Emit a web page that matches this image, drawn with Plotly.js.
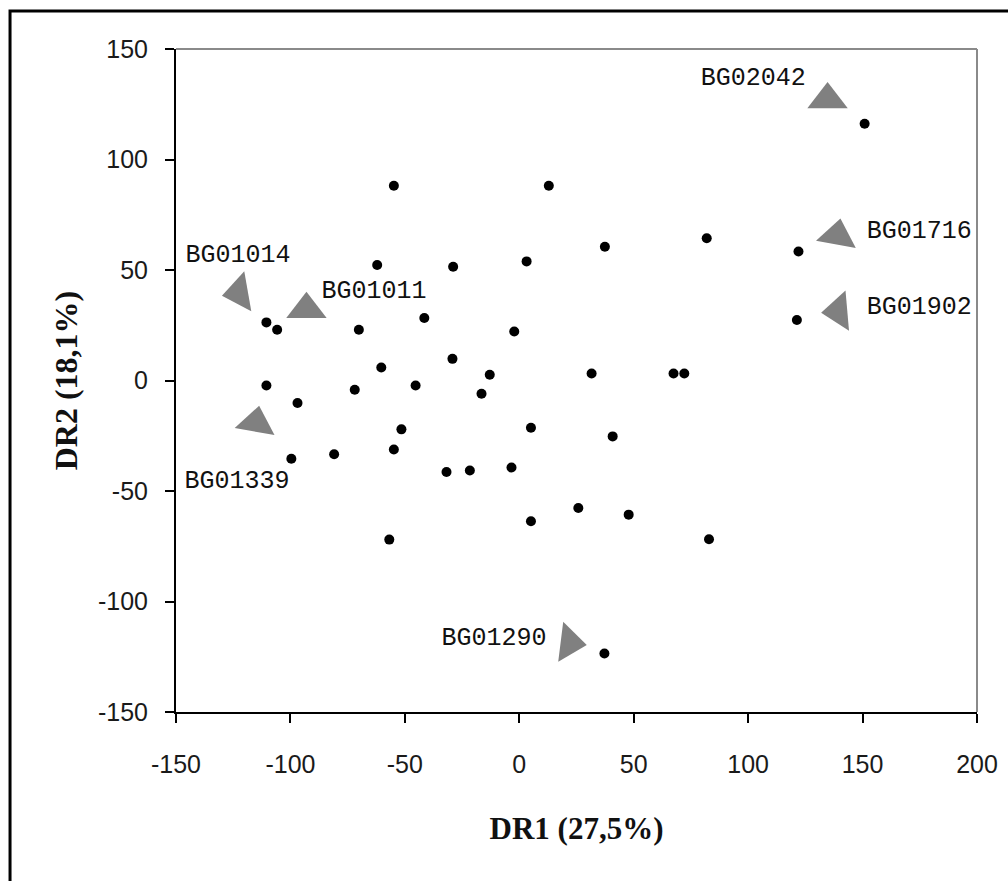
<!DOCTYPE html>
<html>
<head>
<meta charset="utf-8">
<script src="https://cdn.plot.ly/plotly-3.0.1.min.js"></script>
<style>
  html, body { margin: 0; padding: 0; background: #ffffff; }
  #chart { width: 1008px; height: 881px; }
</style>
</head>
<body>
<div id="chart"></div>
<script>
// Accession scores on the first two discriminant axes
const dr1 = [150.9, -54.8, 12.9, 37.4, 81.9, 122.0, -62.1, -28.9, 3.2, 121.3,
             -110.5, -105.8, -70.1, -41.5, -2.2, -29.2, -60.3, -12.9, 31.6, 67.4,
             72.1, -110.5, -71.9, -45.3, -16.5, -96.9, -51.5, 5.1, 40.8, -54.8,
             -80.9, -99.6, -31.8, -21.6, -3.4, 25.8, 47.8, 5.1, -56.8, 82.9, 37.2];
const dr2 = [116.2, 88.1, 88.1, 60.5, 64.4, 58.4, 52.3, 51.5, 53.9, 27.4,
             26.3, 23.0, 23.0, 28.3, 22.2, 9.8, 5.9, 2.6, 3.2, 3.2,
             3.2, -2.3, -4.2, -2.3, -6.0, -10.2, -22.1, -21.4, -25.3, -31.2,
             -33.4, -35.4, -41.4, -40.7, -39.4, -57.7, -60.7, -63.7, -72.0, -71.8, -123.5];

// Highlighted accessions: label names, label positions, pointer positions and directions
const accNames  = ["BG02042", "BG01716", "BG01902", "BG01014", "BG01011", "BG01339", "BG01290"];
const labelX    = [102.2, 174.8, 174.8, -122.9, -63.5, -123.3, -11.0];
const labelY    = [136.6, 67.3, 32.7, 56.5, 40.2, -45.6, -117.0];
const pointerX  = [134.7, 139.0, 139.5, -122.4, -93.0, -115.0, 21.9];
const pointerY  = [127.2, 65.5, 31.3, 39.7, 32.2, -19.2, -118.7];
const pointerAngle = [0, 10, -95, -100, 0, 10, 97];

const xTicks = [-150, -100, -50, 0, 50, 100, 150, 200];
const yTicks = [-150, -100, -50, 0, 50, 100, 150];
const xTitle = "DR1 (27,5%)";
const yTitle = "DR2 (18,1%)";

const traces = [
  {
    type: "scatter", mode: "markers", x: dr1, y: dr2,
    marker: { color: "#000000", size: 10, symbol: "circle" },
    hoverinfo: "x+y", showlegend: false, cliponaxis: false
  },
  {
    type: "scatter", mode: "markers", x: pointerX, y: pointerY,
    marker: { color: "#808080", size: 35, symbol: "triangle-up", angle: pointerAngle, line: { width: 0 } },
    hoverinfo: "skip", showlegend: false, cliponaxis: false
  },
  {
    type: "scatter", mode: "text", x: labelX, y: labelY, text: accNames,
    textposition: "middle center",
    textfont: { family: "Liberation Mono, DejaVu Sans Mono, monospace", size: 25, color: "#111111" },
    hoverinfo: "skip", showlegend: false, cliponaxis: false
  }
];

const axisCommon = {
  showgrid: false, zeroline: false,
  showline: true, linecolor: "#000000", linewidth: 2,
  ticks: "outside", ticklen: 9, tickwidth: 2, tickcolor: "#000000",
  tickfont: { family: "Liberation Sans, Arial, sans-serif", size: 25, color: "#1a1a1a" },
  automargin: false
};

const layout = {
  width: 1008, height: 881,
  margin: { l: 176, r: 31, t: 49, b: 169 },
  paper_bgcolor: "#ffffff", plot_bgcolor: "#ffffff",
  showlegend: false,
  xaxis: Object.assign({}, axisCommon, {
    range: [-150, 200], tickvals: xTicks, ticktext: xTicks.map(String),
    ticklabelstandoff: 20,
    title: { text: xTitle, font: { family: "Liberation Serif, Times New Roman, serif", size: 31, color: "#111111", weight: "bold" }, standoff: 40 }
  }),
  yaxis: Object.assign({}, axisCommon, {
    range: [-150, 150], tickvals: yTicks, ticktext: yTicks.map(String),
    ticklabelstandoff: 12,
    title: { text: yTitle, font: { family: "Liberation Serif, Times New Roman, serif", size: 32, color: "#111111", weight: "bold" }, standoff: 11 }
  }),
  shapes: [
    // plot frame: grey top and right edges
    { type: "line", xref: "paper", yref: "paper", x0: 0, x1: 1, y0: 1, y1: 1, line: { color: "#8a8a8a", width: 2 } },
    { type: "line", xref: "paper", yref: "paper", x0: 1, x1: 1, y0: 0, y1: 1, line: { color: "#8a8a8a", width: 2 } },
    // outer black border of the figure (top and left edges visible)
    { type: "rect", xref: "paper", yref: "paper", x0: -0.2072, x1: 1.2, y0: -0.5, y1: 1.0573, line: { color: "#000000", width: 3 }, fillcolor: "rgba(0,0,0,0)" }
  ]
};

Plotly.newPlot("chart", traces, layout, { displayModeBar: false, staticPlot: true });
</script>
</body>
</html>
